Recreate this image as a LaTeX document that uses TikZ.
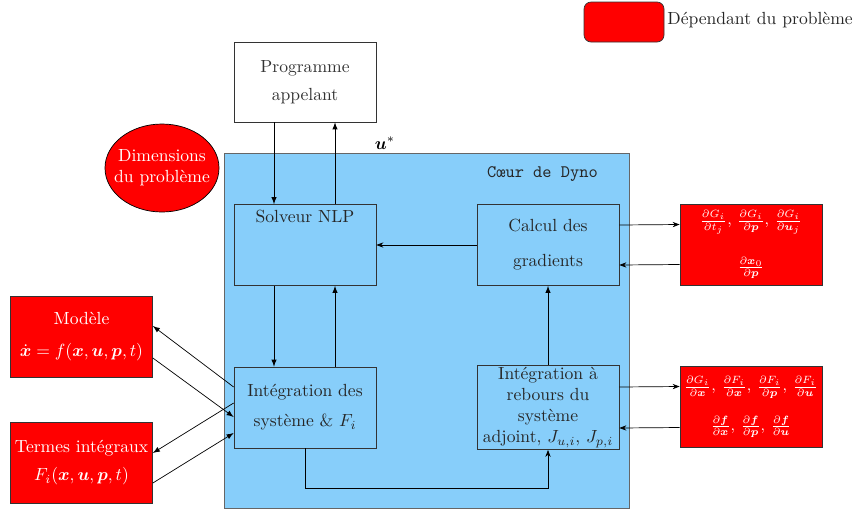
\documentclass[tikz,border=0pt]{standalone}
\usepackage{fontspec}
\usepackage{amsmath, amssymb}
\usepackage{tikz}
\usetikzlibrary{shapes.geometric, arrows.meta, calc}
\definecolor{dynoBlue}{RGB}{135, 206, 250}
\definecolor{probRed}{RGB}{255, 0, 0}

\begin{document}
\begin{tikzpicture}[>=latex,
  blk/.style={draw=black!80, fill=dynoBlue, text=black!85, minimum width=2.84cm,
              minimum height=1.62cm, align=center, inner sep=1pt},
  dep/.style={draw=black!80, fill=probRed, text=white, minimum width=2.84cm,
              minimum height=1.62cm, align=center, inner sep=1pt},
  lite/.style={-{Stealth[length=4pt, width=3pt]}}]

  \useasboundingbox (0,0) rectangle (17.1,-10.24);

  \node[draw=black!80, fill=probRed, rounded corners=4pt, minimum width=1.6cm,
        minimum height=0.8cm] (legbox) at (12.48,-0.44) {};
  \node[anchor=west, inner sep=0pt, text=black!85] (legtxt) at (13.34,-0.40) {Dépendant du problème};

  \node[draw=black!80, fill=white, text=black!80, minimum width=2.84cm, minimum height=1.6cm,
        align=center] (prog) at (6.10,-1.64) {Programme\\[4pt]appelant};
  \node[ellipse, draw=black, fill=probRed, text=white, minimum width=2.28cm,
        minimum height=1.76cm, align=center, inner xsep=-4.5pt, inner ysep=0pt] (dims) at (3.24,-3.36)
        {Dimensions\\du problème};

  \node[draw=black!60, fill=dynoBlue, minimum width=8.1cm, minimum height=7.1cm] (coeur) at (8.53,-6.61) {};
  \node[anchor=east, font=\ttfamily, text=black!85] (titre) at (12.08,-3.48) {Cœur de Dyno};
  \node (ustar) at (7.70,-2.86) {$\boldsymbol{u}^*$};

  \node[blk, label={[anchor=north, inner sep=3pt, text=black!85]north:Solveur NLP}] (solveur) at (6.10,-4.90) {};
  \node[blk] (calcul) at (10.96,-4.90) {Calcul des\\[8pt]gradients};
  \node[blk] (integ) at (6.10,-8.15) {Intégration des\\[5pt]système \& $F_i$};
  \node[blk] (rebours) at (10.96,-8.15) {Intégration à\\rebours du\\système\\adjoint, $J_{u,i}$, $J_{p,i}$};

  \node[dep] (modele) at (1.63,-6.73)
    {Modèle\\[6pt]$\dot{\boldsymbol{x}} = f(\boldsymbol{x},\boldsymbol{u},\boldsymbol{p},t)$};
  \node[dep] (termes) at (1.63,-9.25)
    {Termes intégraux\\[4pt]$F_i(\boldsymbol{x},\boldsymbol{u},\boldsymbol{p},t)$};
  \node[dep, font=\small] (dgrad) at (15.02,-4.89)
    {$\frac{\partial G_i}{\partial t_j}$, $\frac{\partial G_i}{\partial \boldsymbol{p}}$,
     $\frac{\partial G_i}{\partial \boldsymbol{u}_j}$\\[12pt]
     $\frac{\partial \boldsymbol{x}_0}{\partial \boldsymbol{p}}$};
  \node[dep, font=\small] (djac) at (15.02,-8.14)
    {$\frac{\partial G_i}{\partial \boldsymbol{x}}$, $\frac{\partial F_i}{\partial \boldsymbol{x}}$,
     $\frac{\partial F_i}{\partial \boldsymbol{p}}$, $\frac{\partial F_i}{\partial \boldsymbol{u}}$\\[9pt]
     $\frac{\partial \boldsymbol{f}}{\partial \boldsymbol{x}}$, $\frac{\partial \boldsymbol{f}}{\partial \boldsymbol{p}}$,
     $\frac{\partial \boldsymbol{f}}{\partial \boldsymbol{u}}$};

  \draw[->] ([xshift=-0.62cm]prog.south) -- ([xshift=-0.62cm]solveur.north);
  \draw[->] ([xshift=0.6cm]solveur.north) -- ([xshift=0.6cm]prog.south);
  \draw[->] ([xshift=-0.62cm]solveur.south) -- ([xshift=-0.62cm]integ.north);
  \draw[->] ([xshift=0.6cm]integ.north) -- ([xshift=0.6cm]solveur.south);
  \draw[lite] (calcul.west) -- (solveur.east);
  \draw[->] (rebours.north) -- (calcul.south);
  \draw[lite] (integ.south) -- ++(0,-0.8) -| (rebours.south);

  \draw[lite] ([yshift=0.4cm]calcul.east) -- ([yshift=0.4cm]dgrad.west);
  \draw[lite] ([yshift=-0.4cm]dgrad.west) -- ([yshift=-0.4cm]calcul.east);
  \draw[lite] ([yshift=0.41cm]rebours.east) -- ([yshift=0.41cm]djac.west);
  \draw[lite] ([yshift=-0.41cm]djac.west) -- ([yshift=-0.41cm]rebours.east);

  \draw[->] ([yshift=0.41cm]integ.west) -- ([yshift=0.21cm]modele.east);
  \draw[->] ([yshift=-0.43cm]modele.east) -- ([yshift=-0.19cm]integ.west);
  \draw[->] ([yshift=0.09cm]integ.west) -- ([yshift=0.19cm]termes.east);
  \draw[->] ([yshift=-0.41cm]termes.east) -- ([yshift=-0.51cm]integ.west);

\end{tikzpicture}
\end{document}
